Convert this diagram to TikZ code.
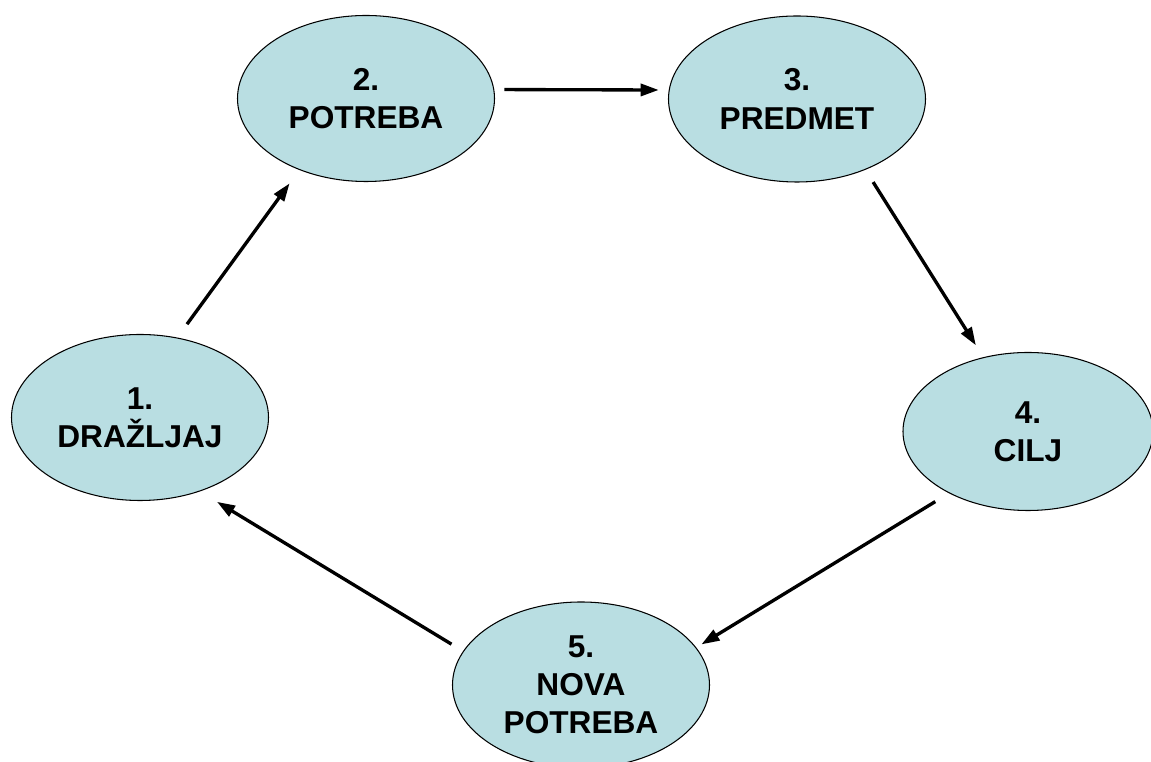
\documentclass[tikz,border=0pt]{standalone}
\usepackage{fontspec}
\setmainfont{Liberation Sans}
\usepackage{xcolor}
\usetikzlibrary{shapes.geometric,arrows.meta}
\definecolor{stagecyan}{RGB}{185,222,226}

\begin{document}
\begin{tikzpicture}[>={Triangle[length=0.36cm,width=0.24cm]},
    stage/.style={ellipse, draw=black, line width=0.6pt, fill=stagecyan, minimum width=5.14cm, minimum height=3.32cm, inner sep=0pt, align=center, font=\fontsize{18}{21.7}\selectfont\bfseries},
    link/.style={->, line width=1.9pt}]
        \useasboundingbox (0,0) rectangle (23.02,15.24);
        % Stages of the cycle
        \node[stage] (drazljaj) at (2.80, 6.89) {1.\\DRAŽLJAJ};
        \node[stage] (potreba) at (7.32, 13.27) {2.\\POTREBA};
        \node[stage] (predmet) at (15.94, 13.26) {3.\\PREDMET};
        \node[stage, minimum width=5.0cm, minimum height=3.16cm] (cilj) at (20.56, 6.61) {4.\\CILJ};
        \node[stage] (nova) at (11.62, 1.54) {5.\\NOVA\\POTREBA};
        % Arrows round the cycle
        \draw[link, shorten <=0.33cm, shorten >=0.33cm] (drazljaj.65) -- (potreba.227);
        \draw[link, shorten <=0.20cm, shorten >=0.20cm] (potreba.4) -- (predmet.176);
        \draw[link, shorten <=0.29cm, shorten >=0.28cm] (predmet.-46) -- (cilj.121);
        \draw[link, shorten <=0.32cm, shorten >=0.12cm] (cilj.218) -- (nova.18);
        \draw[link, shorten <=0.27cm, shorten >=0.40cm] (nova.164) -- (drazljaj.-51);
\end{tikzpicture}
\end{document}
